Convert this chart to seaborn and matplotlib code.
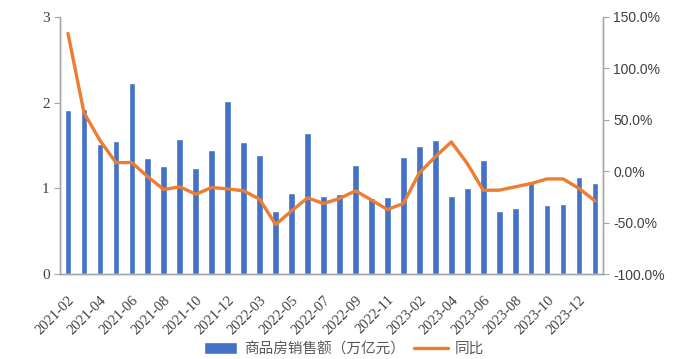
import numpy as np
import pandas as pd
import matplotlib
matplotlib.use('Agg')
import matplotlib.pyplot as plt
import matplotlib.transforms as mtransforms
import seaborn as sns
from matplotlib.ticker import FuncFormatter

sns.set_style('white')
plt.rcParams['font.family'] = ['Noto Sans CJK SC', 'DejaVu Sans']
plt.rcParams['axes.unicode_minus'] = False

# 月份（1-2月合并发布）
months = (['2021-%02d' % m for m in range(2, 13)]
          + ['2022-%02d' % m for m in range(2, 13)]
          + ['2023-%02d' % m for m in range(2, 13)]
          + ['2024-02'])

# 商品房销售额（万亿元）
sales = [1.92, 1.93, 1.52, 1.55, 2.23, 1.355, 1.26, 1.58, 1.24, 1.45, 2.02,
         1.54, 1.39, 0.73, 0.94, 1.65, 0.915, 0.93, 1.27, 0.885, 0.90, 1.36,
         1.49, 1.565, 0.915, 1.00, 1.33, 0.735, 0.77, 1.085, 0.81, 0.82, 1.13,
         1.06]

# 同比（%）
yoy = [134, 57, 30, 8.4, 8.4, -5.5, -17.8, -15.2, -22.4, -15.9, -17.2,
       -19.1, -27.2, -51.9, -38.6, -26.0, -31.4, -26.6, -19.1, -28.0, -37.3,
       -31.4, -1.6, 14.0, 28.5, 7.5, -18.5, -18.5, -15.2, -12.0, -7.5, -7.5,
       -16.8, -28.9]

df = pd.DataFrame({'month': months, 'sales': sales, 'yoy': yoy})

bar_color = '#4472C4'
line_color = '#ED7D31'
axis_color = '#A6A6A6'
text_color = '#404040'

fig = plt.figure(figsize=(7, 3.59), dpi=100)
ax = fig.add_axes([60 / 700, 1 - 274 / 359, 543 / 700, 257 / 359])

sns.barplot(data=df, x='month', y='sales', color=bar_color, width=0.42,
            saturation=1, ax=ax, label='商品房销售额（万亿元）')
ax.set_ylim(0, 3)
ax.set_yticks([0, 1, 2, 3])
ax.yaxis.set_major_formatter(FuncFormatter(lambda v, p: '%d' % v))
for t in ax.get_yticklabels():
    t.set_fontfamily('Liberation Serif')
    t.set_fontsize(11)
    t.set_color(text_color)

ax2 = ax.twinx()
sns.lineplot(data=df, x='month', y='yoy', color=line_color, linewidth=2.4,
             sort=False, ax=ax2, label='同比')
ax2.set_ylim(-100, 150)
ax2.set_yticks([-100, -50, 0, 50, 100, 150])
ax2.yaxis.set_major_formatter(FuncFormatter(lambda v, p: '%.1f%%' % v))
for t in ax2.get_yticklabels():
    t.set_fontfamily('Liberation Sans')
    t.set_fontsize(10)
    t.set_color(text_color)

ax.set_xlim(-0.5, len(months) - 0.5)
ax.set_xticks(range(0, len(months) - 1, 2))
ax.set_xticklabels(months[0:len(months) - 1:2], rotation=45, ha='right',
                   rotation_mode='anchor', fontsize=10.5, color=text_color,
                   fontfamily='Liberation Serif')
shift = mtransforms.ScaledTranslation(-3 / 100, 0, fig.dpi_scale_trans)
for t in ax.get_xticklabels():
    t.set_transform(t.get_transform() + shift)
ax.set_xticks(np.arange(-0.5, len(months), 1), minor=True)
ax.tick_params(axis='x', which='major', length=0, pad=14)
ax.tick_params(axis='x', which='minor', length=4, color=axis_color,
               direction='out')
ax.tick_params(axis='y', length=4, color=axis_color, direction='out', left=True)
ax2.tick_params(axis='y', length=4, color=axis_color, direction='out', right=True)

ax.set_xlabel('')
ax.set_ylabel('')
ax2.set_xlabel('')
ax2.set_ylabel('')
for a in (ax, ax2):
    a.spines['top'].set_visible(False)
    for s in ('left', 'right', 'bottom'):
        a.spines[s].set_color(axis_color)
        a.spines[s].set_linewidth(1)
    a.grid(False)

h1, l1 = ax.get_legend_handles_labels()
h2, l2 = ax2.get_legend_handles_labels()
if ax.get_legend():
    ax.get_legend().remove()
if ax2.get_legend():
    ax2.get_legend().remove()
fig.legend(h1 + h2, l1 + l2, loc='center', bbox_to_anchor=(344 / 700, 1 - 349 / 359),
           ncol=2, frameon=False, fontsize=10.5, handlelength=2.3,
           handleheight=0.8, columnspacing=0.6, handletextpad=0.5,
           labelcolor='#595959')

fig.savefig('out.png', dpi=100)
